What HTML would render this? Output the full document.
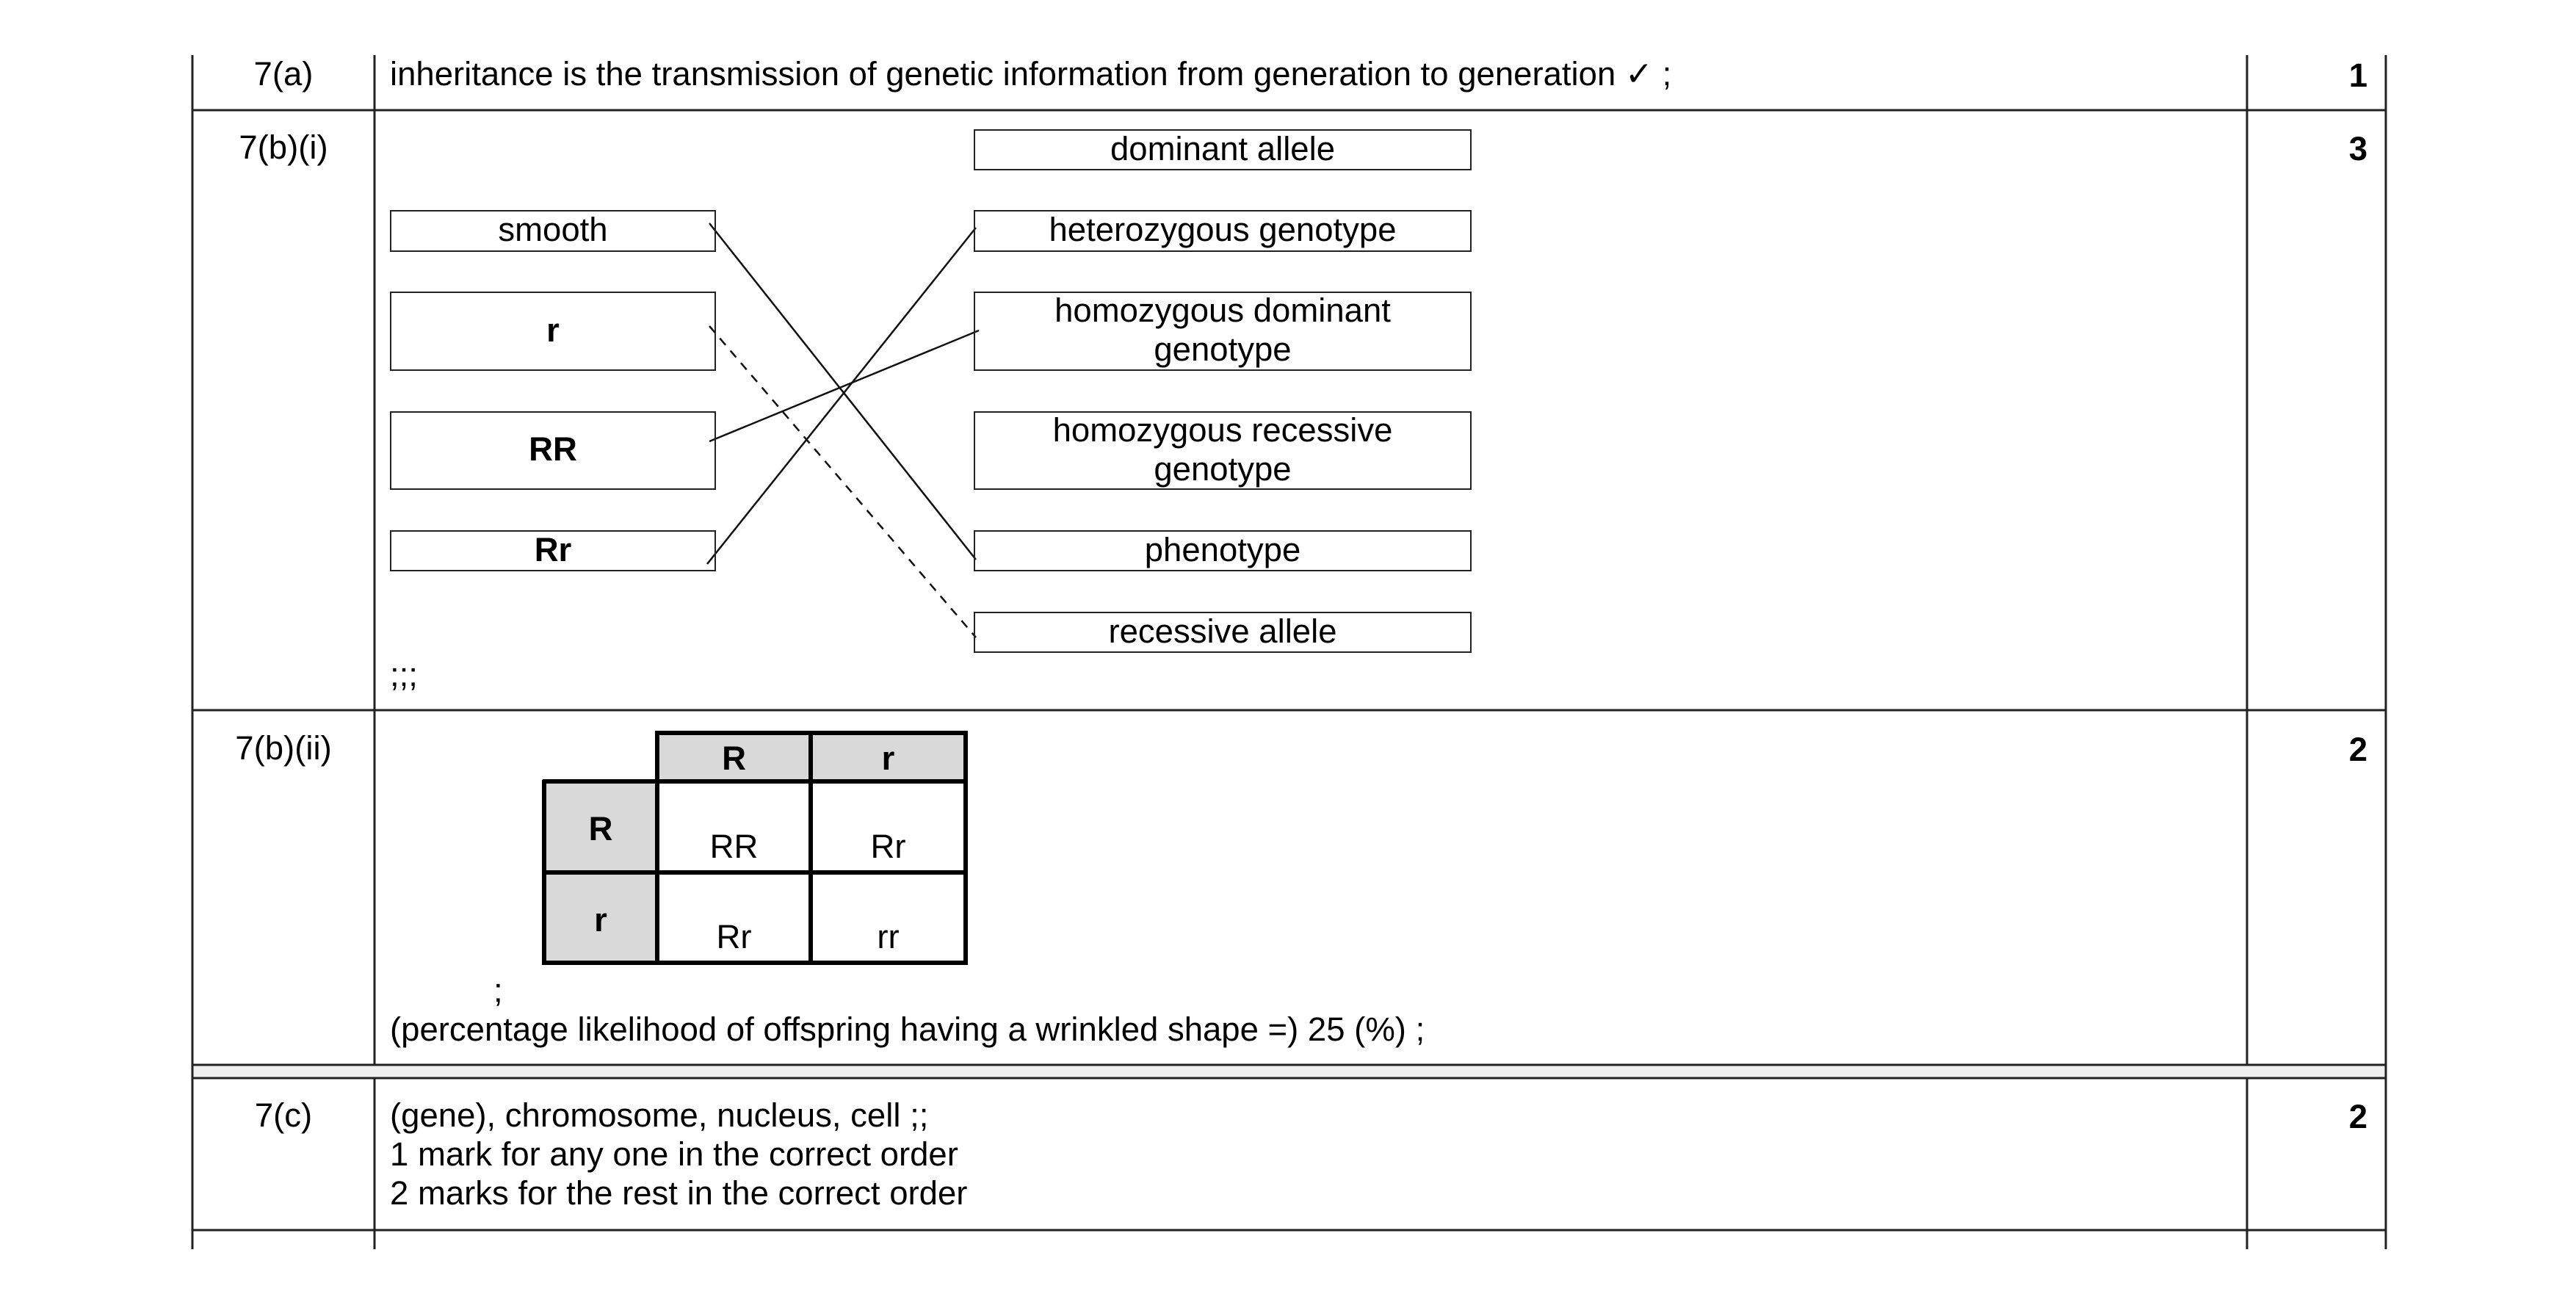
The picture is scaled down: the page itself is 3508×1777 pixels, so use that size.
<!DOCTYPE html>
<html><head><meta charset="utf-8"><style>
html,body{margin:0;padding:0;background:#fff}
body{width:3508px;height:1777px;position:relative;overflow:hidden;font-family:"Liberation Sans",Arial,sans-serif;font-size:45.5px;color:#000}
.t{position:absolute;white-space:nowrap;line-height:1}
.c{text-align:center}
.b{font-weight:bold}
.box{position:absolute;border:2px solid #222;box-sizing:border-box;display:flex;align-items:center;justify-content:center;text-align:center;line-height:53px;font-size:45.5px;padding-bottom:4px}
</style></head><body>
<svg width="3508" height="1777" style="position:absolute;left:0;top:0">
<g stroke="#222" stroke-width="3">
<line x1="262" y1="75" x2="262" y2="1701"/>
<line x1="510" y1="75" x2="510" y2="1701"/>
<line x1="3060" y1="75" x2="3060" y2="1701"/>
<line x1="3249" y1="75" x2="3249" y2="1701"/>
<line x1="262" y1="150" x2="3249" y2="150"/>
<line x1="262" y1="967" x2="3249" y2="967"/>
<rect x="262" y="1450" width="2987" height="18" fill="#f0f0f0"/>
<line x1="262" y1="1675" x2="3249" y2="1675"/>
</g>
<g stroke="#111" stroke-width="2.5" fill="none">
<line x1="966" y1="304" x2="1329" y2="762"/>
<line x1="966" y1="601" x2="1333" y2="450"/>
<line x1="963" y1="768" x2="1329" y2="310"/>
<line x1="966" y1="444" x2="1329" y2="868" stroke-dasharray="12,10"/>
</g>
<rect x="739" y="1063" width="154" height="249" fill="#d9d9d9"/>
<rect x="893" y="997" width="422" height="66" fill="#d9d9d9"/>
<g stroke="#000" stroke-width="6" fill="none">
<line x1="893" y1="998" x2="1318" y2="998"/>
<line x1="739" y1="1064" x2="1318" y2="1064"/>
<line x1="739" y1="1188" x2="1318" y2="1188"/>
<line x1="739" y1="1311" x2="1318" y2="1311"/>
<line x1="741" y1="1062" x2="741" y2="1314"/>
<line x1="895" y1="995" x2="895" y2="1314"/>
<line x1="1104" y1="995" x2="1104" y2="1314"/>
<line x1="1315" y1="995" x2="1315" y2="1314"/>
</g>
</svg>

<div class="t c" style="left:262px;width:248px;top:78px">7(a)</div>
<div class="t" style="left:531px;top:78px">inheritance is the transmission of genetic information from generation to generation ✓ ;</div>
<div class="t b" style="right:284px;top:80px">1</div>

<div class="t c" style="left:262px;width:248px;top:178px">7(b)(i)</div>
<div class="t b" style="right:284px;top:180px">3</div>

<div class="box" style="left:531px;top:286px;width:444px;height:57px">smooth</div>
<div class="box b" style="left:531px;top:397px;width:444px;height:108px">r</div>
<div class="box b" style="left:531px;top:560px;width:444px;height:107px">RR</div>
<div class="box b" style="left:531px;top:722px;width:444px;height:56px">Rr</div>

<div class="box" style="left:1326px;top:176px;width:678px;height:56px">dominant allele</div>
<div class="box" style="left:1326px;top:286px;width:678px;height:57px">heterozygous genotype</div>
<div class="box" style="left:1326px;top:397px;width:678px;height:108px">homozygous dominant<br>genotype</div>
<div class="box" style="left:1326px;top:560px;width:678px;height:107px">homozygous recessive<br>genotype</div>
<div class="box" style="left:1326px;top:722px;width:678px;height:56px">phenotype</div>
<div class="box" style="left:1326px;top:833px;width:678px;height:56px">recessive allele</div>
<div class="t" style="left:531px;top:896px">;;;</div>

<div class="t c" style="left:262px;width:248px;top:996px">7(b)(ii)</div>
<div class="t b" style="right:284px;top:998px">2</div>

<div class="t c b" style="left:895px;width:209px;top:1010px">R</div>
<div class="t c b" style="left:1104px;width:211px;top:1010px">r</div>
<div class="t c b" style="left:741px;width:154px;top:1106px">R</div>
<div class="t c b" style="left:741px;width:154px;top:1230px">r</div>
<div class="t c" style="left:895px;width:209px;top:1130px">RR</div>
<div class="t c" style="left:1104px;width:211px;top:1130px">Rr</div>
<div class="t c" style="left:895px;width:209px;top:1253px">Rr</div>
<div class="t c" style="left:1104px;width:211px;top:1253px">rr</div>
<div class="t" style="left:672px;top:1326px">;</div>
<div class="t" style="left:531px;top:1379px">(percentage likelihood of offspring having a wrinkled shape =) 25 (%) ;</div>

<div class="t c" style="left:262px;width:248px;top:1496px">7(c)</div>
<div class="t b" style="right:284px;top:1498px">2</div>
<div class="t" style="left:531px;top:1496px">(gene), chromosome, nucleus, cell ;;</div>
<div class="t" style="left:531px;top:1549px">1 mark for any one in the correct order</div>
<div class="t" style="left:531px;top:1602px">2 marks for the rest in the correct order</div>
</body></html>
